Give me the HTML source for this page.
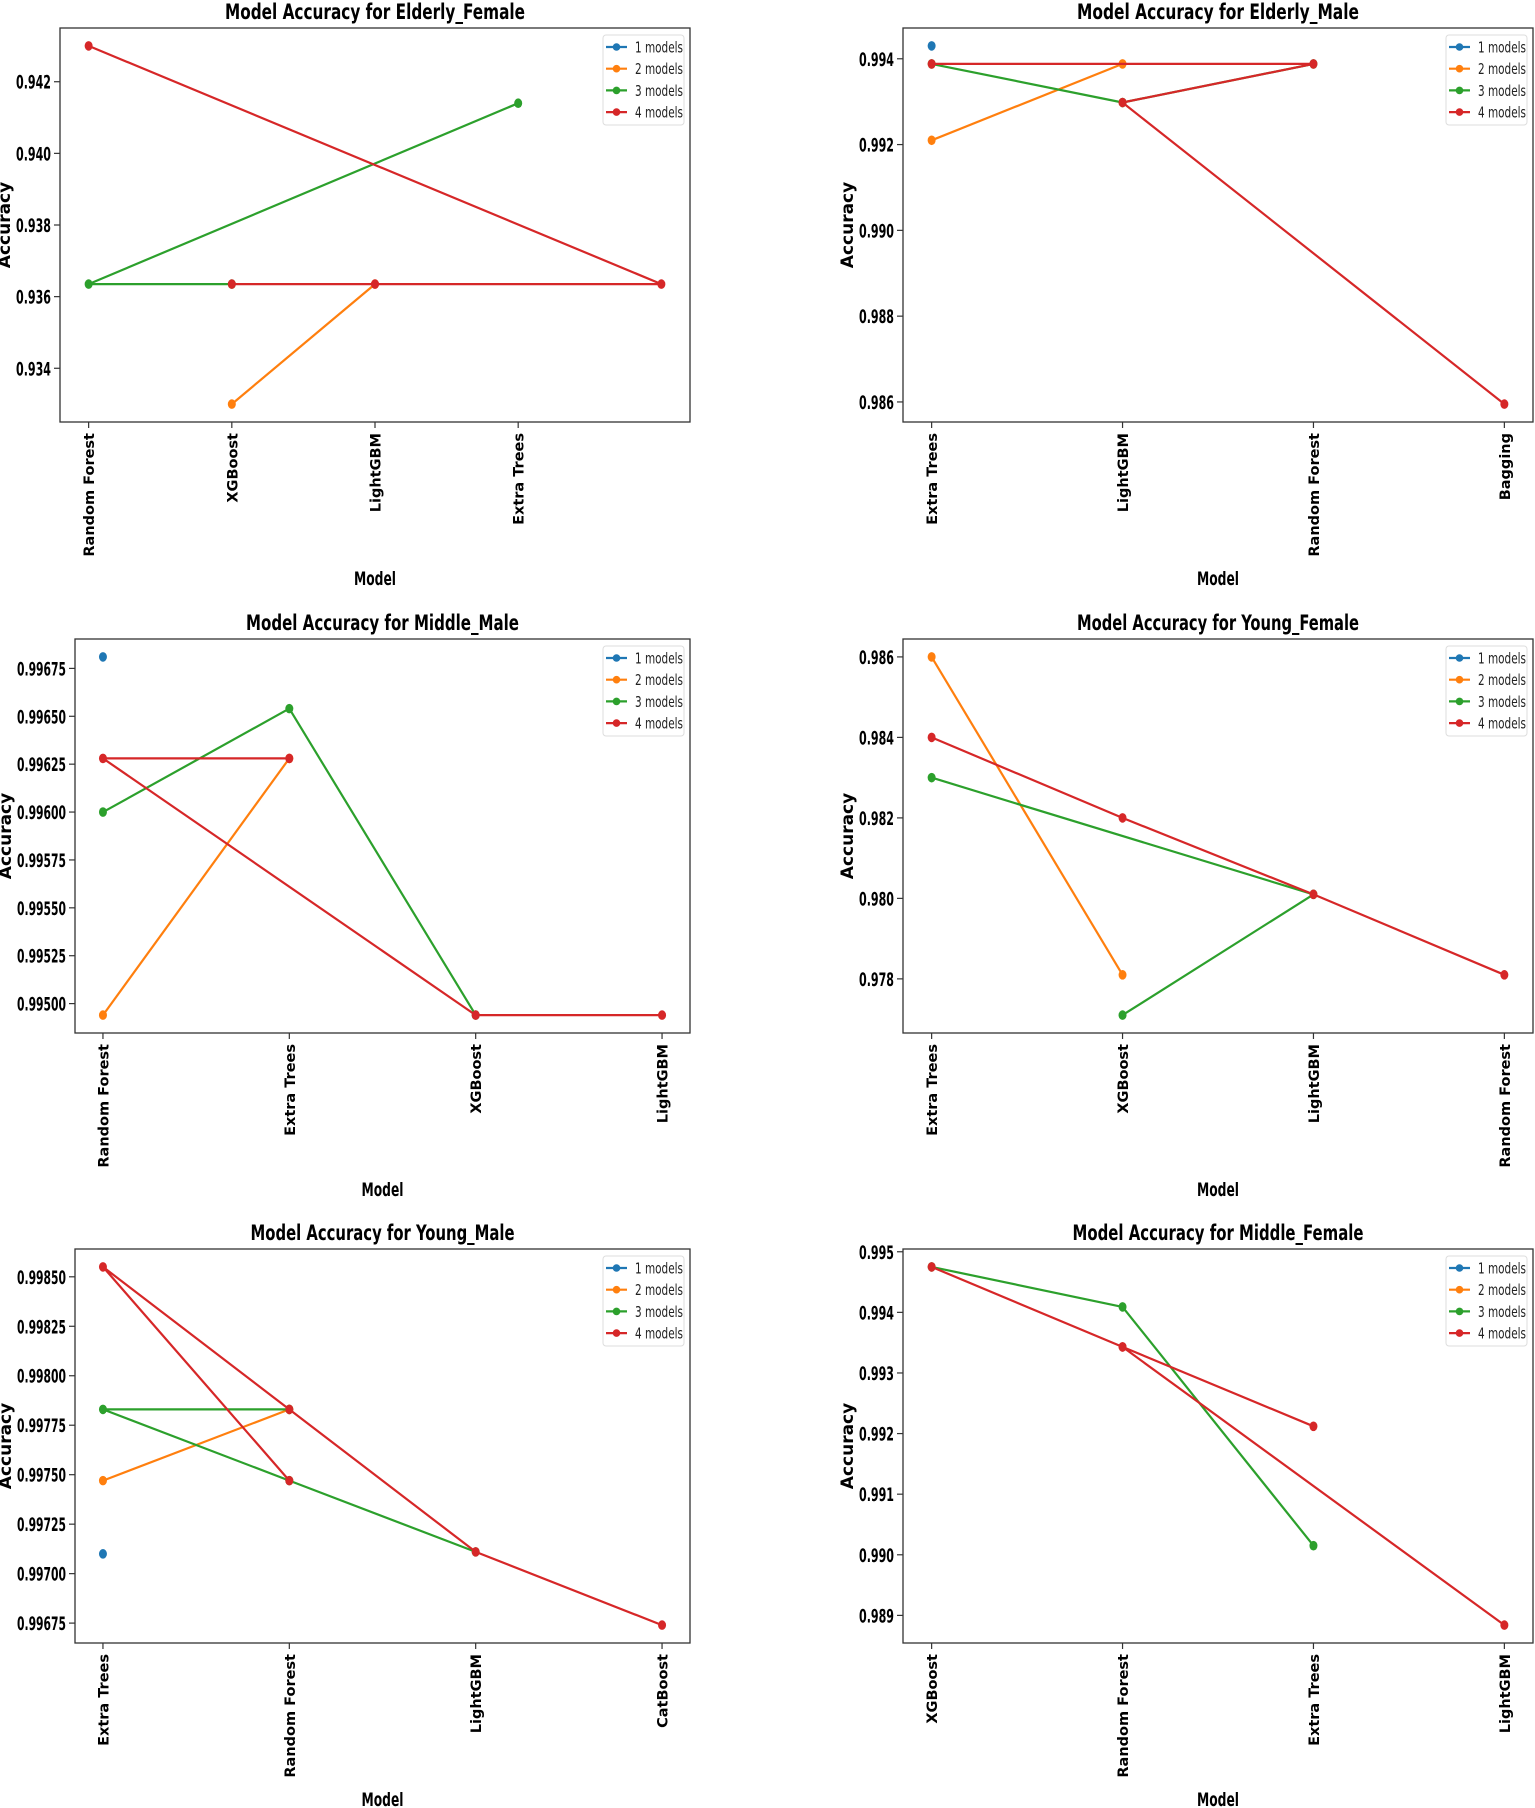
<!DOCTYPE html>
<html><head><meta charset="utf-8">
<style>
html,body{margin:0;padding:0;background:#fff;}
svg{display:block;}
text{font-family:"Liberation Sans Narrow","DejaVu Sans Condensed","DejaVu Sans",sans-serif;}
.wide{font-family:"DejaVu Sans","Liberation Sans",sans-serif;font-weight:bold;}
</style></head>
<body>
<svg id="fig" width="1535" height="1808" viewBox="0 0 1535 1808" xmlns="http://www.w3.org/2000/svg"></svg>
<script>
// ---- data ----
const titles = ["Elderly_Female","Elderly_Male","Middle_Male","Young_Female","Young_Male","Middle_Female"];
const categories = [
  ["Random Forest","XGBoost","LightGBM","Extra Trees",""],
  ["Extra Trees","LightGBM","Random Forest","Bagging"],
  ["Random Forest","Extra Trees","XGBoost","LightGBM"],
  ["Extra Trees","XGBoost","LightGBM","Random Forest"],
  ["Extra Trees","Random Forest","LightGBM","CatBoost"],
  ["XGBoost","Random Forest","Extra Trees","LightGBM"]
];
const seriesNames = ["1 models","2 models","3 models","4 models"];
const seriesCats = [
  [[],[1,2],[1,0,3],[1,2,4,0]],
  [[0],[0,1],[0,1,2],[0,2,1,3]],
  [[0],[0,1],[0,1,2],[1,0,2,3]],
  [[],[0,1],[0,2,1],[0,1,2,3]],
  [[0],[0,1],[1,0,1,2],[1,0,1,2,3]],
  [[],[],[0,1,2],[2,1,0,1,3]]
];
const seriesValues = [
  [[],[0.9330,0.93635],[0.93635,0.93635,0.9414],[0.93635,0.93635,0.93635,0.9430]],
  [[0.99430],[0.99210,0.99388],[0.99388,0.99298,0.99388],[0.99388,0.99388,0.99298,0.98595]],
  [[0.99681],[0.99494,0.99628],[0.99600,0.99654,0.99494],[0.99628,0.99628,0.99494,0.99494]],
  [[],[0.9860,0.9781],[0.9830,0.9801,0.9771],[0.9840,0.9820,0.9801,0.9781]],
  [[0.99710],[0.99747,0.99783],[0.99783,0.99783,0.99747,0.99711],[0.99747,0.99855,0.99783,0.99711,0.99674]],
  [[],[],[0.99475,0.99409,0.99015],[0.99212,0.99343,0.99475,0.99343,0.98884]]
];
const yTicks = [
  [0.934,0.936,0.938,0.940,0.942],
  [0.986,0.988,0.990,0.992,0.994],
  [0.99500,0.99525,0.99550,0.99575,0.99600,0.99625,0.99650,0.99675],
  [0.978,0.980,0.982,0.984,0.986],
  [0.99675,0.99700,0.99725,0.99750,0.99775,0.99800,0.99825,0.99850],
  [0.989,0.990,0.991,0.992,0.993,0.994,0.995]
];
const tickDigits = [3,3,5,3,5,3];
const colors = ["#1f77b4","#ff7f0e","#2ca02c","#d62728"];
// ---- layout ----
const lefts = [60,903,75,903,75,903];
const rights = [690,1533,690,1533,690,1533];
const tops = [28,28,639,639,1249,1249];
const H = 394;
const NS = "http://www.w3.org/2000/svg";
const svg = document.getElementById("fig");
function mk(tag, attrs, parent){ const e=document.createElementNS(NS,tag); for(const k in attrs) e.setAttribute(k,attrs[k]); (parent||svg).appendChild(e); return e; }

for(let p=0;p<6;p++){
  const g = mk("g",{});
  
  
  const L=lefts[p], R=rights[p], T=tops[p], B=T+H, W=R-L;
  const cats = categories[p];
  const n = cats.length;
  const span = (n-1)*1.1;
  const xScale = i => L + (i + (n-1)*0.05)/span*W;
  let all=[]; seriesValues[p].forEach(s=>all=all.concat(s));
  const mn=Math.min(...all), mx=Math.max(...all), pad=(mx-mn)*0.05;
  const y0=mn-pad, y1=mx+pad;
  const yScale = v => B - (v-y0)/(y1-y0)*H;

  const t = mk("text",{x:(L+R)/2,y:T-9,"text-anchor":"middle","font-size":"21","font-weight":"bold",textLength:(("Model Accuracy for "+titles[p]).length*9.1).toFixed(0),lengthAdjust:"spacingAndGlyphs"},g);
  t.textContent = "Model Accuracy for "+titles[p];
  
  

  const yt = yTicks[p];
  let labStart = L;
  yt.forEach(v=>{
    const y=yScale(v);
    mk("line",{x1:L-6,x2:L,y1:y,y2:y,stroke:"#333","stroke-width":1.2},g);
    const s=v.toFixed(tickDigits[p]);
    const w=s.length*7;
    labStart=Math.min(labStart,L-9-w);
    const tx=mk("text",{x:L-9,y:y+7,"text-anchor":"end","font-size":"19","font-weight":"bold",textLength:w,lengthAdjust:"spacingAndGlyphs"},g);
    tx.textContent=s;
    
    
  });
  const yl = mk("text",{x:0,y:0,"text-anchor":"middle","font-size":"17",class:"wide",transform:`translate(${labStart-6},${(T+B)/2}) rotate(-90)`},g);
  yl.textContent="Accuracy";
  
  

  cats.forEach((c,i)=>{
    const x=xScale(i);
    if(c){
      mk("line",{x1:x,x2:x,y1:B,y2:B+6,stroke:"#333","stroke-width":1.2},g);
      const tx=mk("text",{x:0,y:0,"text-anchor":"end","font-size":"14.5",class:"wide",transform:`translate(${x+5.5},${B+11}) rotate(-90)`},g);
      tx.textContent=c;
      
      
    }
  });
  const xl = mk("text",{x:(L+R)/2,y:B+163,"text-anchor":"middle","font-size":"19","font-weight":"bold",textLength:"42",lengthAdjust:"spacingAndGlyphs"},g);
  xl.textContent="Model";
  
  

  for(let s=0;s<4;s++){
    const cs=seriesCats[p][s], vs=seriesValues[p][s];
    if(!cs.length) continue;
    const sg=mk("g",{},g);
    
    
    const pts=cs.map((c,i)=>xScale(c).toFixed(1)+","+yScale(vs[i]).toFixed(1)).join(" ");
    if(cs.length>1){
      const pl=mk("polyline",{points:pts,fill:"none",stroke:colors[s],"stroke-width":2.2,"stroke-linejoin":"round"},sg);
      
      
    }
    cs.forEach((c,i)=>{
      const m=mk("ellipse",{cx:xScale(c),cy:yScale(vs[i]),rx:4,ry:4.8,fill:colors[s]},sg);
      
      
    });
  }

  mk("rect",{x:L,y:T,width:W,height:H,fill:"none",stroke:"#333","stroke-width":1.3},g);

  const lg=mk("g",{},g);
  
  
  mk("rect",{x:R-87,y:T+7,width:81,height:90,rx:3,fill:"#fff",stroke:"#ddd","stroke-width":1},lg);
  seriesNames.forEach((nm,i)=>{
    const y=T+19+i*21.7;
    const e=mk("g",{},lg);
    
    
    mk("line",{x1:R-84,x2:R-63,y1:y,y2:y,stroke:colors[i],"stroke-width":2.2},e);
    mk("circle",{cx:R-73.5,cy:y,r:3.8,fill:colors[i]},e);
    const tx=mk("text",{x:R-55,y:y+5.5,"font-size":"15",textLength:"48",lengthAdjust:"spacingAndGlyphs",fill:"#222"},e);
    tx.textContent=nm;
  });
}
</script>
</body></html>
